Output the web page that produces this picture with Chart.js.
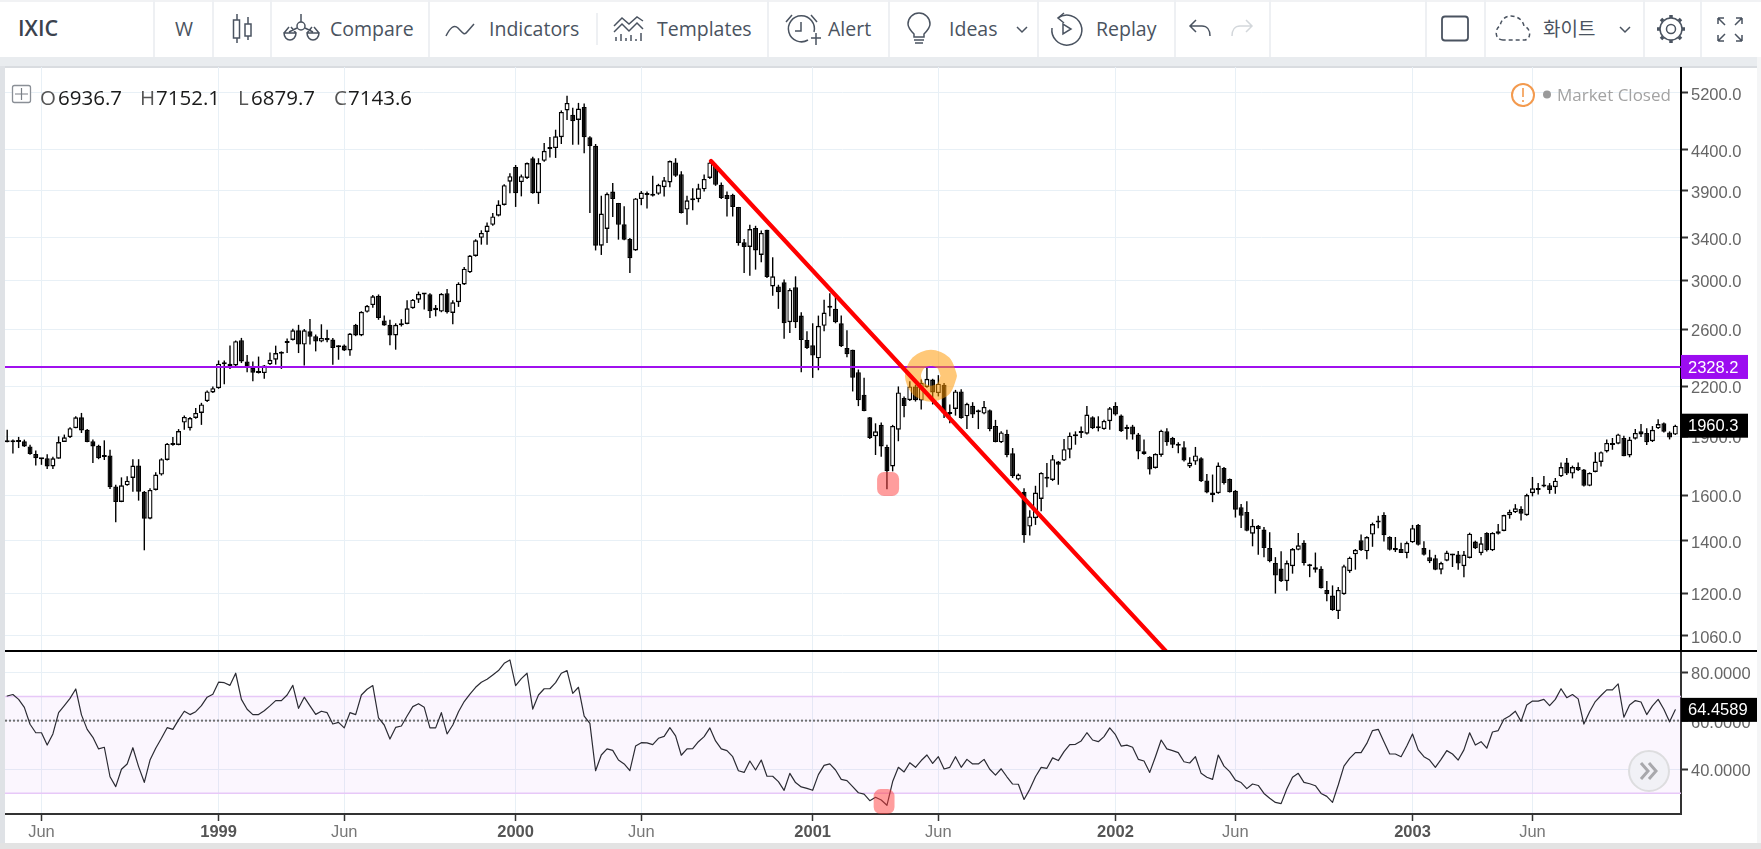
<!DOCTYPE html>
<html>
<head>
<meta charset="utf-8">
<title>IXIC</title>
<script src="https://cdn.jsdelivr.net/npm/chart.js@4/dist/chart.umd.min.js"></script>
<style>
html,body{margin:0;padding:0;width:1761px;height:849px;overflow:hidden;background:#e9ecef;}
#top{position:absolute;left:0;top:0;}
#panel{position:absolute;left:5px;top:67px;width:1752px;height:776px;background:#fff;}
#edge{position:absolute;left:5px;top:66px;width:1752px;height:2px;background:#d9dce0;}
#leftEdge{position:absolute;left:0;top:66px;width:5px;height:783px;background:#dfe2e6;}
#rightEdge{position:absolute;left:1757px;top:57px;width:4px;height:792px;background:#f4f5f6;}
#bottomEdge{position:absolute;left:0;top:843px;width:1761px;height:6px;background:#e3e3e3;}
canvas{position:absolute;left:5px;}
#priceChart{top:67px;}
#rsiChart{top:651px;}
#sep{position:absolute;left:5px;top:650px;width:1752px;height:2px;background:#000;}
#over{position:absolute;left:0;top:0;pointer-events:none;}
</style>
</head>
<body>
<div id="panel"></div>
<div id="edge"></div>
<div id="leftEdge"></div>
<div id="rightEdge"></div>
<div id="bottomEdge"></div>
<canvas id="priceChart" width="1752" height="584"></canvas>
<canvas id="rsiChart" width="1752" height="192"></canvas>
<div id="sep"></div>

<svg id="top" width="1761" height="57" xmlns="http://www.w3.org/2000/svg" font-family="'Open Sans'" font-size="19.5" fill="#4a5360">
  <rect width="1761" height="57" fill="#fff"/>
  <rect width="1761" height="2" fill="#f1f2f4"/>
  <g fill="#eef0f3">
    <rect x="153" width="2" height="57"/><rect x="212" width="2" height="57"/><rect x="270" width="2" height="57"/>
    <rect x="428" width="2" height="57"/><rect x="767" width="2" height="57"/><rect x="888" width="2" height="57"/>
    <rect x="1037" width="2" height="57"/><rect x="1174" width="2" height="57"/><rect x="1269" width="2" height="57"/>
    <rect x="1425" width="2" height="57"/><rect x="1484" width="2" height="57"/><rect x="1643" width="2" height="57"/>
    <rect x="1700" width="2" height="57"/>
    <rect x="596" y="13" width="2" height="32"/>
  </g>
  <text x="18" y="36" font-weight="600" fill="#3b424e" font-size="21.5">IXIC</text>
  <text x="175" y="36">W</text>
  <text x="330" y="36">Compare</text>
  <text x="489" y="36">Indicators</text>
  <text x="657" y="36">Templates</text>
  <text x="828" y="36">Alert</text>
  <text x="949" y="36">Ideas</text>
  <text x="1096" y="36">Replay</text>
  <text x="1543" y="36" font-family="'Noto Sans CJK KR'" font-size="19">화이트</text>
  <g fill="none" stroke="#4a5360" stroke-width="1.5">
    <!-- candles -->
    <path d="M237 14v6M237 38v5M248 17v7M248 36v4"/><rect x="233.5" y="20" width="6" height="18"/><rect x="245" y="24" width="6" height="12"/>
    <!-- compare -->
    <circle cx="301" cy="26" r="4"/><path d="M301 14v8M297 28l-8 4M305 28l8 4M284 33h12a6 7 0 0 1-12 0zM307 33h12a6 7 0 0 1-12 0zM284 33l5-6M296 33l-5-6M307 33l5-6M319 33l-5-6"/>
    <!-- wave -->
    <path d="M446 36c4-8 8-12 12-8s6 8 9 4l7-8"/>
    <!-- templates -->
    <path d="M614 26l8-8 7 6 8-7 6 4M614 32l8-8 7 7 8-8 6 6"/><path d="M616 41v-4M621 41v-7M626 41v-3M631 41v-6M636 41v-2M641 41v-8"/>
    <!-- alert -->
    <path d="M814 32a13 13 0 1 0-6 8"/><path d="M801 22v9h-6M786 22l6-7M817 22l-6-7M811 38h10M816 33v12"/>
    <!-- ideas -->
    <path d="M914 37v-3c-3-3-6-6-6-10a11 11 0 0 1 22 0c0 4-3 7-6 10v3zM914 40h10M915 43h8"/>
    <path d="M1017 27l5 5 5-5"/>
    <!-- replay -->
    <path d="M1058 18a15 15 0 1 1-6 10"/><path d="M1064 13l-6 5 6 5"/><path d="M1063 24v10l8-5z"/>
    <!-- undo, redo -->
    <path d="M1196 20l-6 6 6 6M1190 26h12c5 0 8 4 8 10"/>
    <path stroke="#d3d7db" d="M1246 20l6 6-6 6M1252 26h-12c-5 0-8 4-8 10"/>
    <!-- square -->
    <rect x="1442" y="16.5" width="26" height="24" rx="3" stroke-width="1.8"/>
    <!-- cloud -->
    <path stroke-dasharray="4 3" d="M1503 40c-9 0-8-12-3-14 1-6 5-10 11-10s12 4 13 10c7 2 8 14 0 14z"/>
    <path d="M1620 27l5 5 5-5"/>
    <!-- gear -->
    <circle cx="1671" cy="29" r="4.500"/>
    <circle cx="1671" cy="29" r="11"/>
    <path stroke-width="3.500" d="M1671 15v3M1671 40v3M1657 29h3M1682 29h3M1661 19l2 2M1679 37l2 2M1661 39l2-2M1679 21l2-2"/>
    <!-- full screen -->
    <path d="M1718 18h6M1718 18v6M1718 18l7 7M1742 18h-6M1742 18v6M1742 18l-7 7M1718 41h6M1718 41v-6M1718 41l7-7M1742 41h-6M1742 41v-6M1742 41l-7-7"/>
  </g>
</svg>

<svg id="over" width="1761" height="849" xmlns="http://www.w3.org/2000/svg" font-family="'Open Sans'" font-size="20.500">
  <rect x="12.5" y="85.5" width="18" height="17" rx="2" fill="#fff" stroke="#8a8f96" stroke-width="1.3"/>
  <path d="M21.5 88v12M15 94h13" stroke="#7a7f86" stroke-width="1.2"/>
  <text y="105" fill="#555"><tspan x="40">O</tspan><tspan x="140">H</tspan><tspan x="238">L</tspan><tspan x="334">C</tspan></text>
  <text y="105" fill="#1a1a1a"><tspan x="58">6936.7</tspan><tspan x="156">7152.1</tspan><tspan x="251">6879.7</tspan><tspan x="348">7143.6</tspan></text>
  <circle cx="1523" cy="95" r="11" fill="#fff" stroke="#f39a4e" stroke-width="2"/>
  <path d="M1523 88v9M1523 100v2" stroke="#f39a4e" stroke-width="1.6"/>
  <circle cx="1547" cy="94.500" r="4" fill="#9a9a9a"/>
  <text x="1557" y="101" fill="#a3a3a3" font-size="17">Market Closed</text>
  <circle cx="1649" cy="771" r="20" fill="#f1f1f6" stroke="#dddddf" stroke-width="2"/>
  <path d="M1641 763l7 8-7 8M1649 763l7 8-7 8" fill="none" stroke="#a8a8ac" stroke-width="3"/>
</svg>

<script>
// weekly bars, first bar is index 0
var tickIndex = [6, 37, 59, 89, 111, 141, 163, 194, 215, 246, 267];
var tickLabels = ["Jun", "1999", "Jun", "2000", "Jun", "2001", "Jun", "2002", "Jun", "2003", "Jun"];
var priceTicks = [5200, 4400, 3900, 3400, 3000, 2600, 2200, 1900, 1600, 1400, 1200, 1060];
var rsiTicks = [80, 60, 40];

var opens = [
1878,1878,1878,1873,1845,1805,1777,1782,1740,1780,
1869,1895,1946,2009,1937,1873,1849,1797,1797,1641,
1568,1646,1682,1745,1616,1493,1624,1699,1773,1864,
1853,1978,1946,2005,2035,2107,2161,2188,2346,2351,
2338,2518,2366,2322,2293,2287,2346,2378,2420,2498,
2520,2592,2486,2585,2548,2508,2535,2523,2474,2479,
2444,2634,2553,2736,2791,2868,2668,2634,2553,2643,
2641,2765,2835,2884,2881,2768,2738,2890,2727,2814,
2965,3072,3222,3398,3457,3530,3626,3742,4005,4182,
4001,4050,4290,3873,4258,4420,4420,4562,4935,4874,
4800,4986,4562,4451,3321,3487,3891,3764,3536,3387,
3275,3807,3873,3854,3866,3941,3997,4238,4094,3691,
3815,3807,3917,4050,4198,3969,3851,3855,3720,3354,
3308,3497,3232,3480,2947,2947,2983,2654,2941,2706,
2520,2481,2388,2626,2781,2760,2646,2461,2449,2293,
2147,2009,1900,1965,1842,1740,1937,2126,2112,2199,
2110,2195,2244,2157,2210,2035,2059,2167,2015,2078,
2045,2031,2051,1959,1867,1913,1808,1674,1616,1459,
1495,1582,1678,1672,1765,1770,1827,1900,1919,1915,
2009,1956,1941,1986,2076,2019,1948,1956,1910,1819,
1790,1732,1799,1928,1891,1858,1840,1740,1765,1782,
1670,1612,1609,1732,1677,1620,1544,1523,1429,1462,
1446,1370,1311,1290,1243,1299,1363,1391,1305,1295,
1289,1212,1192,1139,1197,1280,1345,1402,1357,1425,
1476,1509,1415,1370,1366,1350,1393,1466,1370,1334,
1330,1286,1320,1344,1344,1299,1331,1396,1350,1432,
1361,1439,1440,1508,1521,1536,1508,1609,1624,1640,
1647,1637,1690,1760,1704,1737,1724,1644,1712,1763,
1818,1853,1860,1891,1797,1887,1928,1919,1873,1945,
1974,1922,1910];
var highs = [
1937,1882,1897,1882,1854,1823,1782,1803,1790,1900,
1910,1952,2015,2035,1941,1882,1854,1878,1827,1649,
1685,1690,1777,1777,1619,1632,1710,1782,1864,1897,
1941,2019,2011,2065,2096,2173,2199,2373,2373,2480,
2515,2535,2412,2366,2400,2342,2429,2478,2437,2530,
2604,2634,2602,2680,2560,2638,2597,2535,2481,2486,
2572,2641,2741,2791,2874,2879,2706,2673,2646,2678,
2830,2841,2903,2890,2890,2791,2890,2926,2830,2983,
3120,3232,3384,3474,3553,3655,3793,3975,4105,4206,
4090,4238,4310,4290,4487,4566,4664,4935,5152,4972,
5045,5035,4575,4473,3844,3880,3990,3764,3727,3397,
3818,3897,3891,4077,3981,4062,4262,4290,4130,3844,
3929,3981,4090,4262,4222,3997,3891,3866,3720,3387,
3530,3520,3473,3480,3210,2962,3007,2932,3036,2733,
2585,2646,2706,2835,2890,2884,2706,2592,2449,2311,
2255,2011,1974,1978,1854,1965,2199,2136,2233,2210,
2244,2333,2249,2273,2222,2086,2177,2181,2096,2100,
2055,2107,2055,1994,1928,1937,1836,1704,1632,1530,
1644,1710,1757,1799,1768,1885,1922,1928,1956,2076,
2015,2015,1994,2071,2100,2025,1965,1965,1919,1882,
1793,1808,1937,1946,1897,1867,1873,1787,1842,1787,
1702,1699,1760,1737,1680,1624,1559,1571,1491,1466,
1457,1435,1334,1357,1321,1370,1432,1402,1308,1352,
1299,1244,1228,1222,1305,1336,1366,1425,1418,1476,
1506,1521,1418,1415,1391,1396,1466,1470,1398,1363,
1343,1316,1359,1347,1358,1358,1433,1400,1415,1435,
1435,1470,1510,1533,1558,1548,1606,1687,1657,1692,
1657,1682,1760,1783,1744,1760,1727,1710,1814,1818,
1882,1891,1915,1904,1897,1941,1970,1945,1958,1998,
1978,1928,1965];
var lows = [
1867,1807,1836,1842,1801,1745,1748,1727,1727,1780,
1869,1891,1945,1919,1867,1757,1777,1773,1629,1478,
1567,1644,1616,1574,1361,1491,1622,1694,1770,1849,
1851,1937,1933,2000,1965,2101,2157,2184,2213,2315,
2333,2355,2293,2233,2284,2249,2342,2344,2315,2425,
2515,2425,2338,2486,2437,2503,2503,2344,2378,2439,
2405,2548,2548,2731,2768,2673,2627,2481,2449,2621,
2638,2760,2808,2754,2687,2700,2733,2722,2638,2776,
2959,3066,3216,3331,3331,3520,3618,3735,3873,3720,
3837,4038,3866,3753,4246,4298,4294,4473,4800,4464,
4464,4354,3655,3275,3232,3347,3611,3380,3374,3066,
3271,3739,3702,3836,3855,3836,3941,4062,3648,3530,
3684,3771,3891,4038,3957,3807,3618,3618,3321,3066,
3042,3096,3163,3021,2868,2760,2528,2572,2609,2293,
2454,2255,2306,2585,2700,2646,2469,2395,2167,2076,
2045,1885,1799,1790,1627,1715,1873,2009,2107,2104,
2055,2190,2086,2136,2005,1974,2019,2000,1941,2005,
1941,2027,1928,1867,1864,1787,1682,1670,1391,1421,
1466,1526,1637,1667,1649,1768,1782,1854,1891,1910,
1941,1928,1937,1937,2019,1924,1882,1882,1777,1801,
1699,1729,1790,1849,1836,1808,1765,1732,1748,1662,
1609,1567,1606,1650,1612,1498,1453,1439,1377,1343,
1334,1314,1199,1240,1209,1271,1361,1302,1258,1275,
1217,1172,1140,1113,1195,1274,1286,1358,1326,1375,
1452,1396,1360,1354,1350,1330,1391,1380,1340,1311,
1284,1269,1318,1296,1286,1258,1329,1366,1341,1356,
1358,1425,1439,1493,1518,1485,1506,1594,1602,1637,
1606,1606,1687,1697,1680,1717,1640,1642,1710,1740,
1812,1827,1857,1793,1787,1882,1897,1852,1869,1941,
1922,1883,1908];
var closes = [
1867,1867,1869,1845,1805,1782,1780,1740,1782,1869,
1895,1946,2009,1933,1869,1845,1782,1788,1637,1568,
1646,1669,1744,1616,1493,1624,1699,1777,1860,1853,
1930,2011,2005,2035,2086,2167,2188,2351,2351,2333,
2511,2366,2326,2289,2287,2338,2378,2425,2425,2503,
2592,2486,2592,2543,2508,2535,2518,2461,2466,2444,
2567,2553,2736,2785,2863,2687,2629,2553,2634,2631,
2765,2835,2884,2879,2741,2749,2884,2733,2814,2971,
3105,3226,3374,3447,3523,3618,3746,3965,4070,3873,
4070,4230,3873,4230,4385,4407,4575,4913,5045,4781,
4962,4562,4442,3321,3648,3865,3807,3530,3380,3201,
3814,3880,3851,3844,3969,4021,4254,4077,3655,3793,
3793,3929,4038,4238,3969,3818,3807,3720,3347,3308,
3487,3275,3447,3030,3036,2898,2646,2917,2654,2520,
2461,2407,2626,2730,2768,2654,2474,2417,2255,2112,
2047,1891,1928,1845,1715,1959,2161,2076,2199,2112,
2222,2249,2161,2217,2035,2029,2167,2005,2090,2025,
2039,2071,1941,1869,1922,1799,1690,1699,1422,1503,
1612,1707,1685,1777,1748,1830,1904,1910,1930,2025,
1946,1945,1988,2063,2025,1928,1941,1910,1818,1805,
1724,1805,1932,1867,1854,1849,1770,1760,1797,1666,
1612,1600,1744,1657,1613,1533,1506,1441,1462,1448,
1370,1318,1264,1243,1311,1366,1381,1311,1299,1286,
1218,1197,1143,1212,1299,1332,1363,1361,1415,1470,
1481,1422,1363,1361,1350,1391,1452,1383,1343,1318,
1286,1311,1352,1340,1309,1344,1429,1369,1389,1361,
1432,1429,1509,1523,1539,1515,1600,1632,1632,1647,
1624,1669,1737,1704,1737,1720,1644,1707,1765,1814,
1864,1864,1911,1793,1882,1919,1911,1867,1937,1970,
1926,1893,1960.3];
var rsi = [
70.2,70.8,68.8,65.5,58.5,55.0,55.0,49.9,54.5,63.3,
66.2,69.2,73.1,62.4,56.4,53.1,48.3,49.0,36.8,32.7,
39.9,42.1,48.8,41.0,34.5,43.7,48.6,52.7,57.1,56.4,
60.3,63.9,62.5,63.7,66.2,69.7,70.9,75.9,75.7,74.6,
79.6,68.8,64.7,62.5,62.5,64.1,66.1,68.3,68.3,70.6,
74.6,65.1,69.7,66.1,62.6,63.9,63.3,58.6,59.3,57.0,
63.3,62.5,70.6,73.0,74.5,61.1,58.2,52.4,57.2,57.8,
61.9,65.8,67.0,65.5,57.0,57.0,63.3,54.5,58.2,63.7,
67.9,71.0,73.8,75.9,77.1,78.9,80.7,83.7,85.1,74.5,
77.4,79.6,64.8,70.6,73.2,73.2,75.7,79.6,80.7,71.3,
73.8,61.9,58.9,39.3,45.8,48.3,47.7,43.7,42.1,39.3,
49.5,50.9,50.8,50.1,52.7,53.5,57.1,53.7,45.7,48.3,
48.4,51.3,53.4,57.0,51.6,48.3,47.6,45.1,39.3,38.6,
43.3,39.6,43.7,37.0,37.0,34.8,31.2,38.2,34.4,32.6,
32.0,31.2,37.7,41.5,42.1,39.6,35.7,35.2,32.7,30.2,
29.6,26.9,28.3,27.2,25.0,34.8,40.7,38.8,42.6,40.7,
43.5,45.8,42.3,45.1,40.0,40.7,45.1,40.7,44.0,42.1,
42.1,44.0,39.9,37.5,40.1,36.8,33.8,33.7,27.4,31.6,
36.8,40.7,40.3,44.6,43.5,47.2,50.1,50.2,51.6,55.0,
52.0,51.3,53.4,57.0,54.2,49.5,49.9,49.0,44.0,43.3,
38.6,45.1,52.0,48.3,47.6,46.8,43.0,42.5,45.1,38.2,
36.6,35.7,45.8,41.2,38.9,35.4,34.4,31.9,33.8,33.2,
29.9,27.9,26.2,25.7,31.7,36.6,38.2,34.5,33.9,33.1,
29.9,28.7,26.2,33.4,41.2,44.4,46.8,46.8,50.6,55.9,
56.4,51.3,46.2,46.2,45.1,49.5,54.5,47.9,45.1,43.7,
40.7,44.0,47.6,46.2,43.7,47.9,55.0,49.9,51.3,48.6,
55.3,55.9,60.6,61.9,63.9,59.7,66.5,68.1,68.1,68.8,
66.2,68.8,73.2,69.5,70.8,69.0,58.6,63.7,67.9,70.4,
72.7,72.7,75.2,61.4,66.5,68.3,67.7,62.5,66.1,68.8,
64.7,59.5,64.4589];

// drawings on the chart, in bar index / price
var hLevel = 2328.2;
var lastPrice = 1960.3;
var lastRsi = 64.4589;
var trendX = [123.2, 202.8];
var trendY = [4255, 1013.4];
var ringX = [164.85, 163.93, 161.7, 159.47, 158.55, 159.47, 161.7, 163.93, 164.85];
var ringY = [2269, 2355, 2392, 2355, 2269, 2186, 2153, 2186, 2269];
var dotX = [153.5, 154.9, 154.9, 153.5, 153.5];
var dotY = [1677, 1677, 1628, 1628, 1677];
var rsiDotX = [152.9, 154.1, 154.1, 152.9, 152.9];
var rsiDotY = [28.8, 28.8, 24.3, 24.3, 28.8];

var xMin = -0.385, xMax = 293;
var gridColor = "#e8f0f6";
var textColor = "#666";
var axisFont = {family: "'Liberation Sans'", size: 16.5};

Chart.defaults.animation = false;
Chart.defaults.font.family = "'Liberation Sans'";

function points(xs, ys) {
  return xs.map(function(x, i){ return {x: x, y: ys[i]}; });
}
function flat(v) {
  return [{x: xMin, y: v}, {x: xMax, y: v}];
}
function noPadding(scale) {
  scale.paddingTop = scale.paddingBottom = scale.paddingLeft = scale.paddingRight = 0;
}
function tickText(v) {
  return tickLabels[tickIndex.indexOf(v)];
}
function xTicks(scale) {
  scale.ticks = tickIndex.map(function(v){ return {value: v}; });
}
function line(data, color, width, order) {
  return {type: "line", data: data, borderColor: color, borderWidth: width, pointRadius: 0,
          order: order, clip: 0, fill: false, borderCapStyle: "round", borderJoinStyle: "round"};
}

// value tags on the right axis
function tagPlugin(tags, right) {
  return {
    id: "tags",
    afterDraw: function(chart) {
      var ctx = chart.ctx, scale = chart.scales.y;
      ctx.save();
      ctx.font = "16.5px 'Liberation Sans'";
      ctx.textAlign = "left";
      ctx.textBaseline = "middle";
      tags.forEach(function(t){
        var y = scale.getPixelForValue(t.value);
        ctx.fillStyle = t.color;
        ctx.fillRect(chart.chartArea.right, y - 12, right - chart.chartArea.right, 24);
        ctx.fillStyle = "#fff";
        ctx.fillText(t.text, chart.chartArea.right + 7, y + 1);
      });
      ctx.restore();
    }
  };
}

var wicks = closes.map(function(c, i){ return {x: i, y: [lows[i], highs[i]]}; });
var bodies = closes.map(function(c, i){ return {x: i, y: [opens[i], closes[i]]}; });
var bodyColors = closes.map(function(c, i){ return c >= opens[i] ? "#fff" : "#000"; });

var brush = line(points(ringX, ringY), "rgba(255,152,0,0.53)", 16, 2);
brush.tension = 0.3;

new Chart(document.getElementById("priceChart"), {
  type: "bar",
  data: {
    datasets: [
      {data: wicks, backgroundColor: "#000", barThickness: 1.4, borderWidth: 0, inflateAmount: 0, grouped: false, order: 6},
      {data: bodies, backgroundColor: bodyColors, borderColor: "#000", borderWidth: 1.4, borderSkipped: false,
       barThickness: 5, minBarLength: 2, inflateAmount: 0, grouped: false, order: 5},
      line(flat(hLevel), "#a010ee", 2, 4),
      brush,
      line(points(dotX, dotY), "rgba(255,60,60,0.5)", 14, 1),
      line(points(trendX, trendY), "#ff0000", 4.2, 0)
    ]
  },
  options: {
    responsive: false,
    devicePixelRatio: 1,
    layout: {padding: 0},
    plugins: {legend: {display: false}, tooltip: {enabled: false}},
    scales: {
      x: {
        type: "linear", min: xMin, max: xMax, offset: false, bounds: "data",
        afterBuildTicks: xTicks,
        afterFit: function(s){ noPadding(s); s.height = 0; },
        grid: {color: gridColor, offset: false, drawTicks: false},
        border: {display: false},
        ticks: {display: false, autoSkip: false, callback: tickText}
      },
      y: {
        type: "logarithmic", position: "right", min: 1013.4, max: 5604, bounds: "data",
        afterBuildTicks: function(s){ s.ticks = priceTicks.map(function(v){ return {value: v}; }); },
        afterFit: function(s){ noPadding(s); s.width = 76; },
        grid: {color: gridColor, tickColor: "#333", tickLength: 7, tickWidth: 2},
        border: {color: "#000", width: 2},
        ticks: {color: textColor, font: axisFont, padding: 3, labelOffset: 2.5, autoSkip: false,
                callback: function(v){ return v.toFixed(1); }}
      }
    }
  },
  plugins: [tagPlugin([
    {value: lastPrice, text: "1960.3", color: "#000"},
    {value: hLevel, text: "2328.2", color: "#9c0df0"}
  ], 1743)]
});

var rsiPoints = rsi.map(function(v, i){ return {x: i, y: v}; });
var band = line(flat(70), "#e7c8f8", 1.5, 8);
band.fill = "+1";
band.backgroundColor = "rgba(156,39,240,0.045)";

var midLine = line(flat(60), "#6f6f6f", 2, 6);
midLine.borderDash = [2, 2];
midLine.borderCapStyle = "butt";

new Chart(document.getElementById("rsiChart"), {
  type: "line",
  data: {
    datasets: [
      band,
      line(flat(30), "#e7c8f8", 1.5, 7),
      midLine,
      line(rsiPoints, "#2b2b33", 1.2, 3),
      line(points(rsiDotX, rsiDotY), "rgba(255,60,60,0.5)", 14, 1)
    ]
  },
  options: {
    responsive: false,
    devicePixelRatio: 1,
    layout: {padding: 0},
    plugins: {legend: {display: false}, tooltip: {enabled: false}},
    scales: {
      x: {
        type: "linear", min: xMin, max: xMax, bounds: "data",
        afterBuildTicks: xTicks,
        afterFit: function(s){ noPadding(s); s.height = 29; },
        grid: {color: gridColor, tickColor: "#333", tickLength: 7, tickWidth: 1.5},
        border: {color: "#333", width: 2},
        ticks: {
          autoSkip: false, maxRotation: 0, padding: 2, callback: tickText,
          color: function(c){ return tickLabels[c.index] === "Jun" ? "#777" : "#555"; },
          font: function(c){ return {family: "'Liberation Sans'", size: 16.5, weight: tickLabels[c.index] === "Jun" ? "normal" : "bold"}; }
        }
      },
      y: {
        type: "linear", position: "right", min: 21.4, max: 88.8, bounds: "data",
        afterBuildTicks: function(s){ s.ticks = rsiTicks.map(function(v){ return {value: v}; }); },
        afterFit: function(s){ noPadding(s); s.width = 76; },
        grid: {color: gridColor, tickColor: "#333", tickLength: 7, tickWidth: 2},
        border: {color: "#333", width: 2},
        ticks: {color: textColor, font: axisFont, padding: 3, labelOffset: 2.5, autoSkip: false,
                callback: function(v){ return v.toFixed(4); }}
      }
    }
  },
  plugins: [tagPlugin([{value: lastRsi, text: "64.4589", color: "#000"}], 1752)]
});
</script>
</body>
</html>
